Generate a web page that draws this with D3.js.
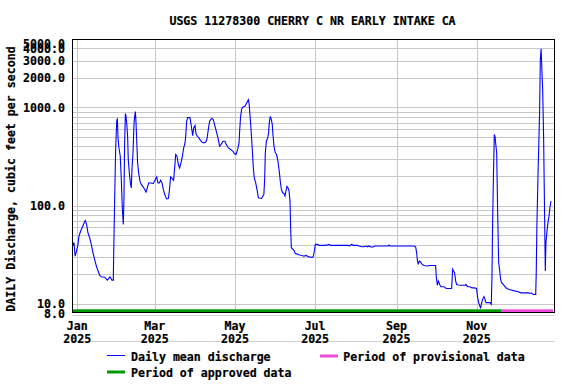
<!DOCTYPE html>
<html>
<head>
<meta charset="utf-8">
<script src="https://cdn.jsdelivr.net/npm/d3@7"></script>
<style>
  body { margin: 0; background: #fff; }
  svg { display: block; }
  text { font-family: "DejaVu Sans Mono", monospace; font-weight: bold; font-size: 11.6px; fill: #000; stroke: #000; stroke-width: 0.2px; }
</style>
</head>
<body>
<div id="chart"></div>
<script>
// daily mean discharge
// days are counted from 1 Jan 2025 (negative = late Dec 2024), flow in ft3/s
var days = [
  -3.3, -2.5, -1.7, -0.7, 0.5, 1.3, 2.6, 3.6, 5.1, 6.1, 7.1, 8.1, 9.4, 10.7, 11.9, 13.2, 14.5, 15.8, 17, 18.3,
  20.8, 22.9, 24.9, 26.4, 27.4, 27.7, 28.4, 29.2, 30, 30.5, 31, 31.7, 32.7, 33.5, 34.3, 35, 35.5, 36, 36.6, 37.1,
  37.6, 38.3, 38.8, 39.6, 40.4, 41.1, 41.6, 42.4, 43.2, 43.7, 44.2, 44.7, 45.4, 45.9, 46.7, 47.7, 48.7, 49.8, 51.3, 52.3,
  53.3, 54.3, 55.8, 57.9, 59.4, 60.4, 61.4, 62.4, 63.4, 64.5, 65.5, 66.5, 68, 69.3, 70.3, 71, 72, 73.3, 74.1, 74.9,
  75.9, 76.9, 77.9, 78.9, 80, 81, 82, 82.7, 83.2, 84, 85.8, 86.8, 87.8, 88.6, 89.6, 90.3, 91.4, 92.6, 94.1, 95.9,
  97.7, 98.7, 99.7, 100.7, 102.3, 103.5, 104.8, 106.1, 107.3, 108.3, 109.4, 110.9, 112.4, 113.4, 115, 117, 118.5, 119.5, 120.8, 122,
  123.1, 123.6, 124.3, 125.1, 126.1, 127.6, 128.9, 130.2, 130.7, 131.9, 133.2, 134, 134.7, 135.8, 137, 137.8, 140.3, 141.3, 142, 142.6,
  143.1, 143.9, 144.9, 145.6, 146.1, 146.9, 147.7, 148.4, 148.9, 149.7, 150.7, 151.7, 152.7, 153.7, 154.5, 155.3, 156.3, 157.3, 158.1, 158.8,
  159.6, 160.4, 161.1, 161.9, 162.4, 162.9, 164.2, 165.2, 165.9, 167.5, 169, 170.5, 172.5, 174, 175.6, 177.6, 179.1, 179.6, 180.4, 181.2,
  182.5, 184.2, 187.5, 190, 191.3, 192.6, 198.9, 206, 207, 208.6, 210.3, 212.9, 214.6, 216.4, 218.2, 220, 221, 222, 223.3, 225,
  226.6, 232, 236.7, 237.2, 238, 249.9, 256.2, 257.5, 258.3, 258.8, 259.5, 260.3, 261.3, 262.6, 263.8, 266.4, 267.7, 272.7, 273.2, 274,
  274.8, 275.8, 276.8, 279.1, 280.8, 284.9, 285.7, 286.4, 287.2, 288, 288.7, 290.2, 292, 295.3, 295.8, 297.1, 298.9, 300.4, 302.2, 303.9,
  304.7, 305.5, 306.5, 307, 307.5, 308.5, 309.5, 310.3, 311, 314.1, 315.1, 315.6, 316.1, 316.9, 317.4, 317.9, 318.4, 319.2, 319.9, 320.7,
  321.4, 322.2, 322.9, 324.2, 325.5, 326.8, 328.3, 330.1, 332.6, 335.1, 337.7, 343.5, 344.5, 345.5, 347.1, 348.9, 349.3, 349.8, 350.6, 351.4,
  351.9, 352.4, 353, 353.4, 354.2, 354.9, 355.7, 356.2, 356.7, 357.5, 358.2, 359, 359.7, 360.5
]
var flow = [
  39, 42, 30.5, 34, 40, 49, 55, 59, 66, 70.5, 64, 53, 47, 40, 33, 28.3, 24.2, 21.5, 19.5, 18.8,
  18.6, 17.4, 18.7, 17.4, 17.4, 31.8, 108, 372, 722, 775, 488, 386, 318, 184, 91, 64, 115, 419, 865, 811,
  693, 508, 294, 215, 170, 151, 233, 344, 693, 811, 906, 693, 402, 272, 215, 177, 164, 157, 146, 137,
  151, 170, 170, 168, 184, 196, 170, 170, 181, 170, 146, 130, 117, 118, 151, 196, 190, 181, 242, 331,
  318, 262, 242, 272, 318, 386, 434, 550, 722, 787, 787, 643, 516, 618, 653, 541, 508, 489, 452, 434,
  442, 476, 594, 722, 775, 751, 643, 550, 476, 402, 418, 452, 452, 418, 386, 371, 357, 339, 331, 371,
  434, 585, 811, 963, 1009, 1025, 1109, 1199, 1109, 695, 371, 242, 191, 170, 140, 120, 118, 125, 130, 184,
  344, 452, 489, 550, 695, 811, 751, 668, 529, 402, 344, 331, 283, 224, 177, 146, 135, 133, 125, 140,
  157, 151, 143, 111, 57, 37.2, 35.7, 34.4, 32.5, 32, 31.3, 31.1, 30.5, 31, 30.2, 29.8, 29.6, 30.2, 34.4, 40.2,
  40.2, 39.3, 39.3, 39.5, 40.2, 39.3, 39.3, 39.3, 38.7, 40.2, 39.3, 39.3, 38.7, 38, 38, 38.7, 38, 38.7, 37.8, 37.8,
  38.7, 38.7, 38.7, 39.6, 38.7, 38.7, 38.7, 38, 33, 27.9, 25.1, 27.2, 26.6, 25.1, 24.5, 24.2, 24.5, 24.5, 19.1, 15.4,
  17, 15.7, 14.9, 14.9, 14.3, 14.3, 22.4, 21.5, 20.7, 17, 15.7, 15.5, 15.4, 15.4, 15.7, 14.9, 14.9, 14.5, 14.5, 14.3,
  11.5, 10.25, 9.33, 9.1, 9.86, 11.07, 11.8, 11.07, 10.25, 10.25, 9.86, 18.4, 66.7, 262, 529, 508, 434, 344, 91.3, 26.1,
  22.4, 17.7, 16.4, 15.7, 14.9, 14.3, 14, 13.8, 13.5, 13.3, 12.9, 12.9, 12.7, 12.9, 12.4, 12.4, 20.7, 61.7, 191, 508,
  948, 3060, 3960, 2830, 1516, 508, 72, 21.5, 41.8, 55, 66.7, 78, 95, 111
]

var xStart = '2024-12-28T08:24Z'
var xEnd = '2025-12-30T04:48Z'
var provisionalFrom = '2025-11-19T12:00Z'

var monthTicks = ['2025-01-01', '2025-03-01', '2025-05-01', '2025-07-01', '2025-09-01', '2025-11-01']
var monthLabels = ['Jan', 'Mar', 'May', 'Jul', 'Sep', 'Nov']
var yearLabel = '2025'

var yTicks = [8, 10, 100, 1000, 2000, 3000, 4000, 5000]
var yGrid = [10, 20, 30, 40, 50, 60, 70, 80, 90, 100, 200, 300, 400, 500, 600, 700, 800, 900, 1000, 2000, 3000, 4000, 5000]

var title = 'USGS 11278300 CHERRY C NR EARLY INTAKE CA'
var yTitle = 'DAILY Discharge, cubic feet per second'

var width = 576
var height = 384
// plot box (note: "top" is taken by window.top, so prefix these)
var plotLeft = 72.5, plotRight = 554.5, plotTop = 39.5, plotBottom = 312.5

var jan1 = Date.UTC(2025, 0, 1)
var toDate = (d) => new Date(jan1 + d * 864e5)
var series = days.map((d, i) => ({ date: toDate(d), value: flow[i] }))

var x = d3.scaleUtc().domain([new Date(xStart), new Date(xEnd)]).range([plotLeft, plotRight])
var y = d3.scaleLog().domain([8, 5000]).range([313.2, 38.8])

var svg = d3.select('#chart').append('svg').attr('width', width).attr('height', height)

svg.append('text')
  .attr('x', 312.5).attr('y', 24.5)
  .attr('text-anchor', 'middle')
  .text(title)

// grid
svg.append('g').selectAll('line').data(yGrid).enter().append('line')
  .attr('x1', plotLeft).attr('x2', plotRight)
  .attr('y1', (d) => Math.round(y(d)) + 0.5).attr('y2', (d) => Math.round(y(d)) + 0.5)
  .attr('stroke', '#c8c8c8').attr('stroke-width', 1)

svg.append('g').selectAll('line').data(monthTicks).enter().append('line')
  .attr('x1', (d) => Math.round(x(new Date(d))) + 0.5).attr('x2', (d) => Math.round(x(new Date(d))) + 0.5)
  .attr('y1', plotTop).attr('y2', plotBottom)
  .attr('stroke', '#c8c8c8').attr('stroke-width', 1)

// faint lines under the plot
svg.append('g').selectAll('line').data([315.5, 341.5]).enter().append('line')
  .attr('x1', plotLeft).attr('x2', plotRight)
  .attr('y1', (d) => d).attr('y2', (d) => d)
  .attr('stroke', '#d0d0d0').attr('stroke-width', 1)

// approval period bar
svg.append('rect')
  .attr('x', x(new Date(xStart))).attr('y', 309.3)
  .attr('width', x(new Date(provisionalFrom)) - x(new Date(xStart))).attr('height', 2.7)
  .attr('fill', '#009900')
svg.append('rect')
  .attr('x', x(new Date(provisionalFrom))).attr('y', 309.3)
  .attr('width', x(new Date(xEnd)) - 1.5 - x(new Date(provisionalFrom))).attr('height', 2.7)
  .attr('fill', '#f04cdc')

var line = d3.line().x((d) => x(d.date)).y((d) => y(d.value))

svg.append('path')
  .datum(series)
  .attr('d', line)
  .attr('fill', 'none')
  .attr('stroke', '#0000ff')
  .attr('stroke-width', 1.1)

// frame
svg.append('rect')
  .attr('x', plotLeft).attr('y', plotTop)
  .attr('width', plotRight - plotLeft).attr('height', plotBottom - plotTop)
  .attr('fill', 'none').attr('stroke', '#000').attr('stroke-width', 1)

// y tick labels
svg.append('g').selectAll('text').data(yTicks).enter().append('text')
  .attr('x', 65)
  .attr('y', (d) => Math.max(y(d), 43.3) + 4.5)
  .attr('text-anchor', 'end')
  .text((d) => d.toFixed(1))

// x tick labels
var xl = svg.append('g').selectAll('g').data(monthTicks).enter().append('g')
  .attr('transform', (d) => `translate(${x(new Date(d))}, 0)`)
xl.append('text').attr('y', 330.3).attr('text-anchor', 'middle').text((d, i) => monthLabels[i])
xl.append('text').attr('y', 343.3).attr('text-anchor', 'middle').text(yearLabel)

svg.append('text')
  .attr('transform', 'translate(14.5, 179) rotate(-90)')
  .attr('text-anchor', 'middle')
  .text(yTitle)

// legend
svg.append('line').attr('x1', 107).attr('x2', 125).attr('y1', 355.5).attr('y2', 355.5)
  .attr('stroke', '#0000ff').attr('stroke-width', 1)
svg.append('text').attr('x', 131).attr('y', 361).text('Daily mean discharge')

svg.append('line').attr('x1', 320).attr('x2', 338).attr('y1', 356).attr('y2', 356)
  .attr('stroke', '#f04cdc').attr('stroke-width', 3)
svg.append('text').attr('x', 343.3).attr('y', 361).text('Period of provisional data')

svg.append('line').attr('x1', 107).attr('x2', 125).attr('y1', 372).attr('y2', 372)
  .attr('stroke', '#009900').attr('stroke-width', 3)
svg.append('text').attr('x', 131).attr('y', 377).text('Period of approved data')
</script>
</body>
</html>
